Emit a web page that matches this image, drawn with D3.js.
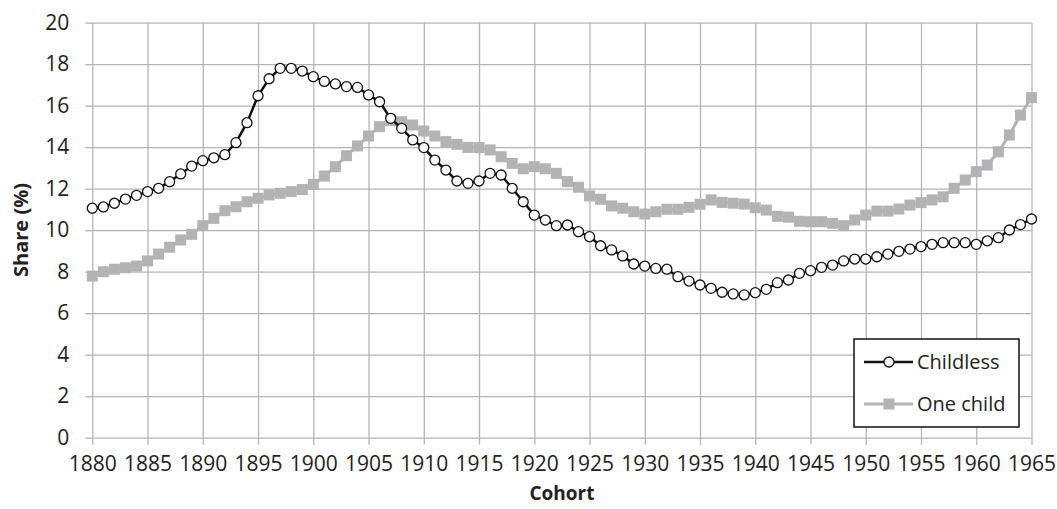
<!DOCTYPE html>
<html><head><meta charset="utf-8">
<script src="https://cdn.jsdelivr.net/npm/d3@7"></script>
<style>
html,body{margin:0;padding:0;background:#fff;}
svg{display:block;font-family:"Open Sans",sans-serif;}
</style></head>
<body>
<svg id="c" width="1057" height="509"></svg>
<script>
const years = d3.range(1880, 1966);
const childless = [11.06,11.12,11.30,11.50,11.68,11.86,12.02,12.34,12.71,13.09,
  13.35,13.49,13.64,14.22,15.18,16.48,17.30,17.80,17.80,17.67,
  17.40,17.17,17.05,16.92,16.88,16.52,16.19,15.39,14.91,14.35,
  13.98,13.38,12.90,12.37,12.26,12.37,12.74,12.66,12.02,11.37,
  10.73,10.49,10.22,10.25,9.93,9.69,9.25,9.05,8.76,8.37,
  8.27,8.16,8.12,7.76,7.55,7.36,7.20,7.01,6.93,6.88,
  6.99,7.15,7.47,7.60,7.92,8.05,8.21,8.32,8.52,8.61,
  8.61,8.72,8.85,8.98,9.09,9.21,9.32,9.40,9.40,9.40,
  9.32,9.49,9.64,10.01,10.27,10.54];
const oneChild = [7.79,8.00,8.12,8.19,8.27,8.52,8.85,9.18,9.53,9.80,
  10.22,10.57,10.94,11.13,11.37,11.54,11.70,11.78,11.86,11.96,
  12.21,12.61,13.06,13.59,14.06,14.54,14.99,15.28,15.23,15.07,
  14.78,14.54,14.27,14.14,13.99,13.98,13.87,13.54,13.22,12.96,
  13.06,12.96,12.74,12.34,12.07,11.65,11.49,11.17,11.06,10.89,
  10.78,10.89,11.01,11.01,11.10,11.25,11.46,11.34,11.30,11.26,
  11.08,10.97,10.67,10.63,10.43,10.41,10.41,10.33,10.22,10.49,
  10.73,10.92,10.92,11.02,11.21,11.33,11.46,11.61,12.02,12.42,
  12.82,13.14,13.78,14.59,15.55,16.39];
const xTicks = d3.range(1880, 1966, 5);
const yTicks = d3.range(0, 21, 2);
const seriesNames = ["Childless", "One child"];

const svg = d3.select("#c");
const x = d3.scaleLinear().domain([1880, 1965]).range([92.3, 1031.5]);
const y = d3.scaleLinear().domain([0, 20]).range([437.7, 22.7]);
const gridColor = "#b4b4b4";

const yAx = d3.axisLeft(y).tickValues(yTicks).tickSize(7).tickPadding(16).tickFormat(d3.format("d"));
const gy = svg.append("g").attr("transform", "translate(92.3,0)").call(yAx);
gy.select(".domain").remove();
gy.selectAll(".tick line").attr("stroke", gridColor).attr("stroke-width", 1.3);
gy.selectAll(".tick").append("line").attr("x1", 0).attr("x2", 1031.5 - 92.3)
  .attr("stroke", gridColor).attr("stroke-width", 1.3);
gy.selectAll("text").attr("font-size", 21).attr("fill", "#222").attr("font-family", "Open Sans");

const xAx = d3.axisBottom(x).tickValues(xTicks).tickSize(7).tickPadding(11).tickFormat(d3.format("d"));
const gx = svg.append("g").attr("transform", "translate(0,437.7)").call(xAx);
gx.select(".domain").remove();
gx.selectAll(".tick line").attr("stroke", gridColor).attr("stroke-width", 1.3);
gx.selectAll(".tick").append("line").attr("y1", 0).attr("y2", 22.7 - 437.7)
  .attr("stroke", gridColor).attr("stroke-width", 1.3);
gx.selectAll("text").attr("font-size", 21).attr("fill", "#222").attr("font-family", "Open Sans");

svg.append("text").attr("x", 562).attr("y", 500).attr("text-anchor", "middle")
  .attr("font-size", 19).attr("font-weight", "bold").attr("fill", "#222").text("Cohort");
svg.append("text").attr("transform", "translate(28,230) rotate(-90)").attr("text-anchor", "middle")
  .attr("font-size", 20).attr("font-weight", "bold").attr("fill", "#222").text("Share (%)");

const line = d3.line().x((d, i) => x(years[i])).y(d => y(d));

const oneColor = "#b3b3b5";
svg.append("path").datum(oneChild).attr("d", line).attr("fill", "none")
  .attr("stroke", oneColor).attr("stroke-width", 3);
svg.append("g").selectAll("rect").data(oneChild).join("rect")
  .attr("x", (d, i) => x(years[i]) - 5.5).attr("y", d => y(d) - 5.5)
  .attr("width", 11).attr("height", 11).attr("fill", oneColor);

svg.append("path").datum(childless).attr("d", line).attr("fill", "none")
  .attr("stroke", "#111").attr("stroke-width", 2.5);
svg.append("g").selectAll("circle").data(childless).join("circle")
  .attr("cx", (d, i) => x(years[i])).attr("cy", d => y(d)).attr("r", 5)
  .attr("fill", "#fff").attr("stroke", "#111").attr("stroke-width", 1.3);

const lg = svg.append("g");
lg.append("rect").attr("x", 854).attr("y", 339).attr("width", 165).attr("height", 88)
  .attr("fill", "#fff").attr("stroke", "#111").attr("stroke-width", 1.5);
const ly = [362, 404];
lg.append("line").attr("x1", 864).attr("x2", 913).attr("y1", ly[0]).attr("y2", ly[0])
  .attr("stroke", "#111").attr("stroke-width", 2.5);
lg.append("circle").attr("cx", 889).attr("cy", ly[0]).attr("r", 5)
  .attr("fill", "#fff").attr("stroke", "#111").attr("stroke-width", 1.3);
lg.append("line").attr("x1", 864).attr("x2", 913).attr("y1", ly[1]).attr("y2", ly[1])
  .attr("stroke", oneColor).attr("stroke-width", 3);
lg.append("rect").attr("x", 889 - 5.5).attr("y", ly[1] - 5.5).attr("width", 11).attr("height", 11)
  .attr("fill", oneColor);
seriesNames.forEach((n, i) => {
  lg.append("text").attr("x", 917).attr("y", ly[i]).attr("dy", "0.35em")
    .attr("font-size", 20).attr("fill", "#222").text(n);
});
</script>
</body></html>
